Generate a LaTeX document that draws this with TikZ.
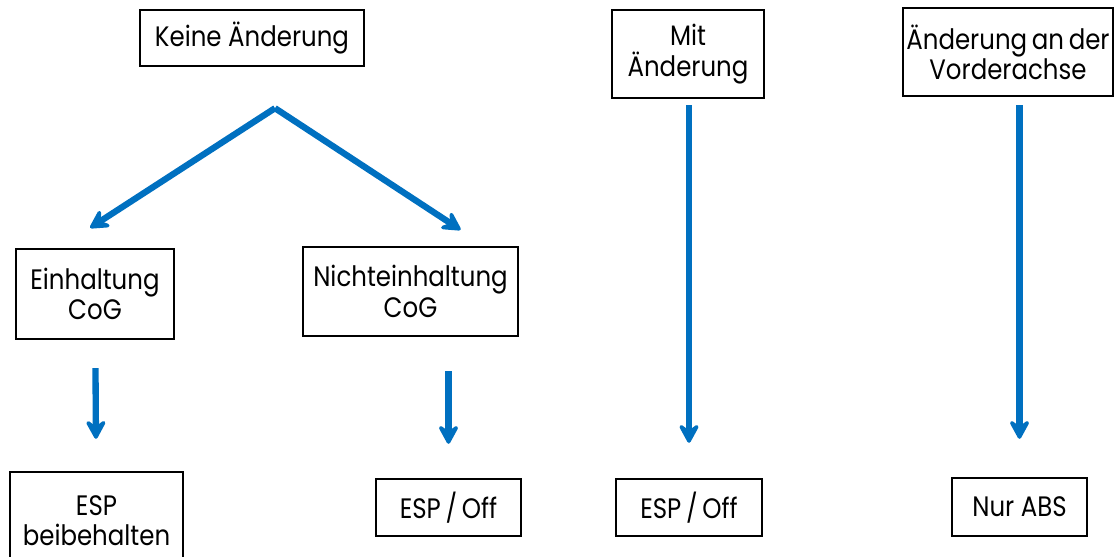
\documentclass[tikz,border=0pt]{standalone}
\usepackage{fontspec}
\setmainfont[FakeStretch=0.87]{Poppins}
\usetikzlibrary{arrows.meta}
\definecolor{flowblue}{RGB}{0,112,192}
\tikzset{
  box/.style={rectangle, draw=black, line width=1.7pt, fill=white,
              align=center, inner sep=2pt, font=\fontsize{20}{21.5}\selectfont},
  flow/.style={-{Stealth[length=6mm, width=6.5mm, inset=2.4mm, round]},
               line width=4.5pt, flowblue},
}

\begin{document}
\begin{tikzpicture}
  \useasboundingbox (0,0) rectangle (27.875,13.925);
  % top row
  \node[box, minimum width=5.6cm, minimum height=1.4cm]   (keine)  at (6.3,12.975)  {Keine Änderung};
  \node[box, minimum width=3.8cm, minimum height=2.2cm]   (mit)    at (17.2,12.575) {Mit\\Änderung};
  \node[box, minimum width=5.25cm, minimum height=2.2cm]  (vorder) at (25.2,12.625) {Änderung\,an\,der\\Vorderachse};
  % middle row
  \node[box, minimum width=3.95cm, minimum height=2.25cm] (einh)   at (2.375,6.575) {Einhaltung\\CoG};
  \node[box, minimum width=5.375cm, minimum height=2.225cm] (nicht) at (10.2625,6.6375) {Nichteinhaltung\\CoG};
  % bottom row
  \node[box, minimum width=4.325cm, minimum height=2.45cm] (beib)  at (2.4125,0.9)   {ESP\\beibehalten};
  \node[box, minimum width=3.625cm, minimum height=1.425cm] (offA) at (11.2125,1.2375) {ESP\,/\,Off};
  \node[box, minimum width=3.65cm, minimum height=1.425cm] (offB)  at (17.225,1.2375) {ESP\,/\,Off};
  \node[box, minimum width=3.375cm, minimum height=1.45cm] (abs)   at (25.4875,1.25)  {Nur ABS};

  % split below the first box
  \coordinate (split) at ([shift={(0.575,-1.025)}]keine.south);
  \coordinate (tipL)  at ([shift={(-0.12,0.5)}]einh.north);
  \coordinate (tipR)  at ([shift={(1.25,0.4)}]nicht.north);
  \draw[flow] (split) -- (tipL);
  \draw[flow] (split) -- (tipR);

  % down arrows
  \draw[flow, shorten <=0.7cm,  shorten >=0.8cm]  (einh) -- (beib);
  \draw[flow, shorten <=0.85cm, shorten >=0.85cm] (nicht.south -| offA) -- (offA.north);
  \draw[flow, shorten <=0.15cm, shorten >=0.875cm] (mit.south -| offB) -- (offB.north);
  \draw[flow, shorten <=0.2cm,  shorten >=0.95cm] (vorder.south -| abs) -- (abs.north);
\end{tikzpicture}
\end{document}
